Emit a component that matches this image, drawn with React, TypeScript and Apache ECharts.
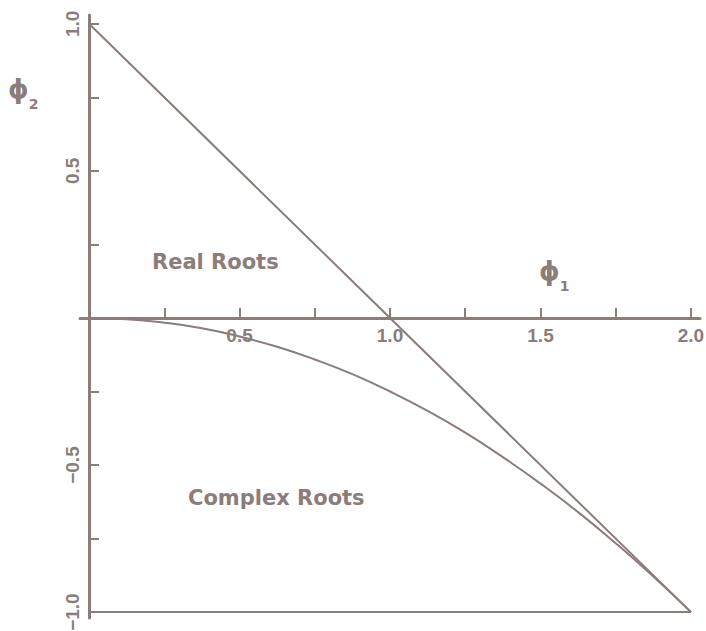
import React, { useEffect, useRef } from "react";
import * as echarts from "echarts";

const PHI1_TICKS = [0.25, 0.5, 0.75, 1.0, 1.25, 1.5, 1.75, 2.0];
const PHI1_LABELS = [0.5, 1.0, 1.5, 2.0];
const PHI2_TICKS = [-1.0, -0.75, -0.5, -0.25, 0.25, 0.5, 0.75, 1.0];
const PHI2_LABELS = [-1.0, -0.5, 0.5, 1.0];

// boundary phi2 = 1 - phi1
const EDGE_PHI1 = [0, 2];
const EDGE_PHI2 = [1, -1];
// bottom boundary phi2 = -1
const BOTTOM_PHI1 = [0, 2];
const BOTTOM_PHI2 = [-1, -1];
// real/complex root boundary curve
const CURVE_PHI1 = [0, 0.125, 0.25, 0.375, 0.5, 0.625, 0.75, 0.875, 1.0, 1.125, 1.25, 1.375, 1.5, 1.625, 1.75, 1.875, 2.0];
const CURVE_PHI2 = [0, -0.004, -0.016, -0.035, -0.063, -0.098, -0.141, -0.191, -0.25, -0.316, -0.39, -0.473, -0.563, -0.66, -0.766, -0.879, -1.0];

const INK = "#8a7d7a";
const FONT = "DejaVu Sans";

const GRID_LEFT = 80;
const GRID_RIGHT = 6;
const GRID_TOP = 15;
const GRID_BOTTOM = 13;
const X_MIN = -0.03;
const X_MAX = 2.03;
const Y_MIN = -1.02;
const Y_MAX = 1.03;

const zip = (a: number[], b: number[]) => a.map((v, i) => [v, b[i]]);
const fmt = (v: number) => (v < 0 ? "\u2212" + Math.abs(v).toFixed(1) : v.toFixed(1));

const phiRich = {
  p: { fill: INK, fontFamily: FONT, fontWeight: "bold", fontSize: 26, lineHeight: 44, verticalAlign: "middle" },
  s: { fill: INK, fontFamily: FONT, fontWeight: "bold", fontSize: 14, lineHeight: 14, verticalAlign: "bottom" },
};

export default function App() {
  const ref = useRef<HTMLDivElement>(null);
  useEffect(() => {
    if (!ref.current) return;
    const W = 706;
    const H = 631;
    const plotW = W - GRID_LEFT - GRID_RIGHT;
    const plotH = H - GRID_TOP - GRID_BOTTOM;
    // place the axes through the origin using offsets
    const xOffset = -((0 - Y_MIN) / (Y_MAX - Y_MIN)) * plotH;
    const yOffset = -((0 - X_MIN) / (X_MAX - X_MIN)) * plotW;
    const chart = echarts.init(ref.current, null, { renderer: "svg" });
    const lineSeries = (data: number[][], smooth = false) => ({
      type: "line",
      data,
      smooth,
      showSymbol: false,
      symbol: "none",
      lineStyle: { color: INK, width: 2 },
      silent: true,
    });
    chart.setOption({
      animation: false,
      backgroundColor: "#ffffff",
      grid: {
        left: GRID_LEFT,
        right: GRID_RIGHT,
        top: GRID_TOP,
        bottom: GRID_BOTTOM,
        containLabel: false,
        outerBoundsMode: "none",
      },
      xAxis: {
        type: "value",
        min: X_MIN,
        max: X_MAX,
        position: "bottom",
        offset: xOffset,
        splitLine: { show: false },
        axisLine: { onZero: false, lineStyle: { color: INK, width: 3 } },
        axisTick: { inside: true, length: 10, customValues: PHI1_TICKS, lineStyle: { color: INK, width: 2 } },
        axisLabel: {
          customValues: PHI1_LABELS,
          formatter: fmt,
          color: INK,
          fontFamily: "Liberation Sans",
          fontWeight: "bold",
          fontSize: 19,
          margin: 8,
        },
      },
      yAxis: {
        type: "value",
        min: Y_MIN,
        max: Y_MAX,
        position: "left",
        offset: yOffset,
        splitLine: { show: false },
        axisLine: { onZero: false, lineStyle: { color: INK, width: 3 } },
        axisTick: { inside: true, length: 10, customValues: PHI2_TICKS, lineStyle: { color: INK, width: 2 } },
        axisLabel: {
          customValues: PHI2_LABELS,
          formatter: fmt,
          rotate: 90,
          color: INK,
          fontFamily: "Liberation Sans",
          fontWeight: "bold",
          fontSize: 19,
          margin: 7,
        },
      },
      series: [
        lineSeries(zip(EDGE_PHI1, EDGE_PHI2)),
        lineSeries(zip(BOTTOM_PHI1, BOTTOM_PHI2)),
        lineSeries(zip(CURVE_PHI1, CURVE_PHI2), true),
      ],
      graphic: [
        {
          type: "text",
          x: 152,
          y: 262,
          style: { text: "Real Roots", fill: INK, font: `bold 21px '${FONT}'`, verticalAlign: "middle" },
        },
        {
          type: "text",
          x: 188,
          y: 498,
          style: { text: "Complex Roots", fill: INK, font: `bold 21px '${FONT}'`, verticalAlign: "middle" },
        },
        {
          type: "text",
          x: 8,
          y: 89,
          style: { text: "{p|\u03d5}{s|2}", verticalAlign: "middle", rich: phiRich },
        },
        {
          type: "text",
          x: 539,
          y: 271,
          style: { text: "{p|\u03d5}{s|1}", verticalAlign: "middle", rich: phiRich },
        },
      ],
    });
    return () => chart.dispose();
  }, []);
  return <div ref={ref} style={{ position: "fixed", left: 0, top: 0, width: 706, height: 631 }} />;
}
